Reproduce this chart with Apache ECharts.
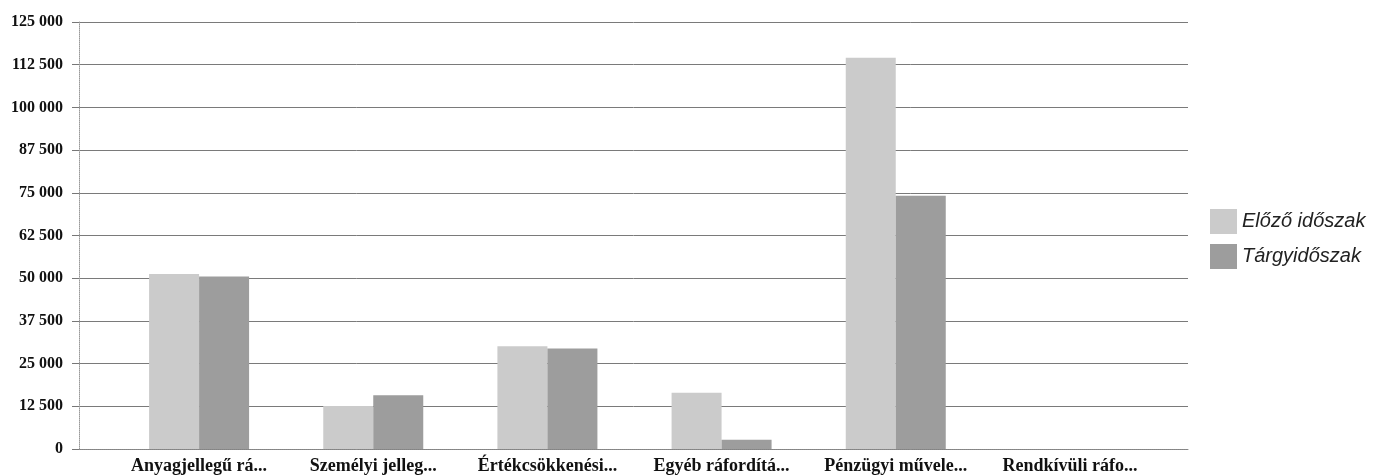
<!DOCTYPE html>
<html>
<head>
<meta charset="utf-8">
<script src="https://cdn.jsdelivr.net/npm/echarts@6/dist/echarts.min.js"></script>
<style>
html,body{margin:0;padding:0;background:#fff;}
#chart{width:1373px;height:475px;}
</style>
</head>
<body>
<div id="chart"></div>
<script>
var categories = ["Anyagjellegű rá...", "Személyi jelleg...", "Értékcsökkenési...", "Egyéb ráfordítá...", "Pénzügyi művele...", "Rendkívüli ráfo..."];
var seriesNames = ["Előző időszak", "Tárgyidőszak"];
var previousPeriod = [51200, 12600, 30100, 16500, 114500, 0];
var currentPeriod = [50500, 15700, 29400, 2700, 74100, 0];
var yMin = 0, yMax = 125000, yStep = 12500;

function fmt(v){ return String(v).replace(/\B(?=(\d{3})+(?!\d))/g, ' '); }

var chart = echarts.init(document.getElementById('chart'), null, {renderer:'canvas'});
var serif = '"Liberation Serif", "DejaVu Serif", serif';
chart.setOption({
  animation:false,
  backgroundColor:'#ffffff',
  grid:[
    {left:79, right:185, top:22, bottom:26},
    {left:112, right:216, top:22, bottom:26}
  ],
  legend:{
    orient:'vertical', left:1205, top:204,
    itemWidth:27, itemHeight:25, itemGap:10,
    icon:'rect',
    textStyle:{fontFamily:'"Liberation Sans", Arial, sans-serif', fontStyle:'italic', fontSize:20, color:'#222'},
    data:seriesNames
  },
  xAxis:[
    {gridIndex:0, type:'value', min:0, max:1, axisLine:{show:true, onZero:false, lineStyle:{color:'#8a8a8a', width:1, type:'dotted'}},
     axisTick:{show:false}, axisLabel:{show:false}, splitLine:{show:false}},
    {gridIndex:1, type:'category', data:categories,
     axisLine:{show:false}, axisTick:{show:false},
     axisLabel:{margin:8, fontFamily:serif, fontWeight:'bold', fontSize:18, color:'#111', interval:0}}
  ],
  yAxis:[
    {gridIndex:0, type:'value', min:yMin, max:yMax, interval:yStep,
     axisLine:{show:true, lineStyle:{color:'#9a9a9a', width:1, type:'dotted'}},
     axisTick:{show:true, length:7, inside:false, lineStyle:{color:'#777'}},
     axisLabel:{margin:16, fontFamily:serif, fontWeight:'bold', fontSize:16, color:'#111', formatter:fmt},
     splitLine:{show:true, lineStyle:{color:'#7a7a7a', width:1}}},
    {gridIndex:1, type:'value', min:yMin, max:yMax, interval:yStep, show:false, splitLine:{show:false}}
  ],
  series:[
    {name:seriesNames[0], type:'bar', xAxisIndex:1, yAxisIndex:1, data:previousPeriod,
     barWidth:50, barGap:'0%', itemStyle:{color:'#cbcbcb'}},
    {name:seriesNames[1], type:'bar', xAxisIndex:1, yAxisIndex:1, data:currentPeriod,
     barWidth:50, barGap:'0%', itemStyle:{color:'#9d9d9d'}}
  ]
});
</script>
</body>
</html>
